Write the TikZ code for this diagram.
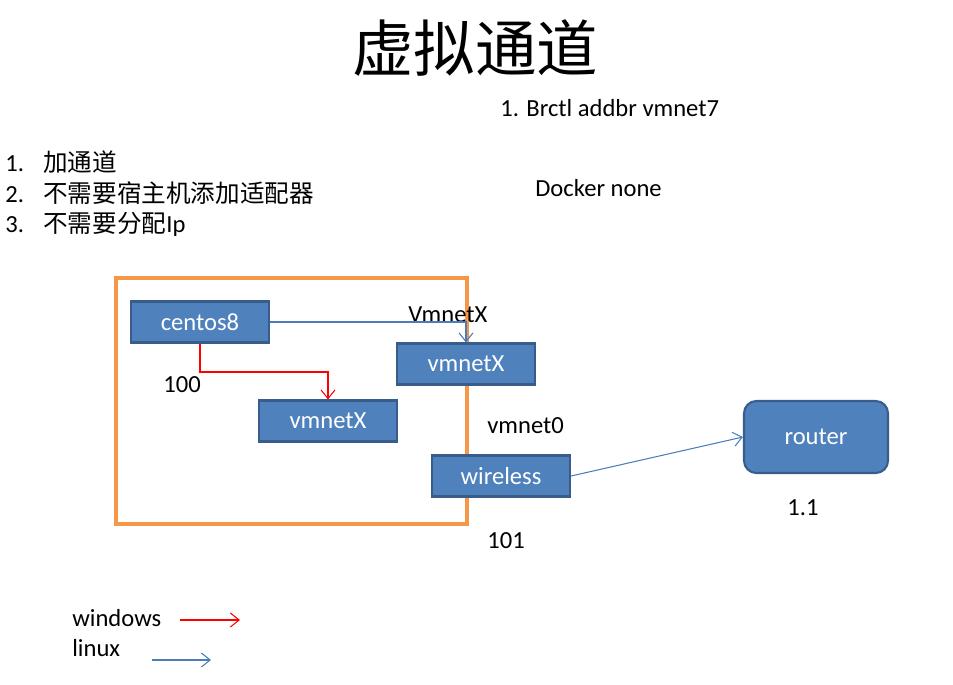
\documentclass[tikz,border=0pt]{standalone}
\usepackage{fontspec}
\setmainfont{Carlito}
\newfontfamily\cjk{Noto Sans CJK SC}
\usetikzlibrary{arrows.meta,calc}
\definecolor{boxblue}{HTML}{4F81BD}
\definecolor{boxedge}{HTML}{385D8A}
\definecolor{lineblue}{HTML}{4A7EBB}
\definecolor{hostorange}{HTML}{F79646}
\tikzset{
  netbox/.style={rectangle,fill=boxblue,draw=boxedge,line width=1.2pt,text=white,
    minimum width=2.76cm,minimum height=0.82cm,font=\fontsize{14}{16}\selectfont},
  label/.style={font=\fontsize{14}{16}\selectfont,inner sep=0pt},
  winarrow/.style={draw=red,line width=0.6pt,-{Straight Barb[length=5pt,width=8pt]}},
  linarrow/.style={draw=lineblue,line width=0.6pt,-{Straight Barb[length=5pt,width=8pt]}}
}
\begin{document}
\begin{tikzpicture}[x=0.02cm,y=-0.02cm]
\useasboundingbox (0,0) rectangle (953,684);
\node[inner sep=0pt,font=\cjk\fontsize{35}{40}\selectfont] (title) at (475,48) {虚拟通道};
\node[label,anchor=west] (brctl) at (500,108) {1. Brctl addbr vmnet7};
\node[label,anchor=west] (docker) at (535,188) {Docker none};
\node[label,anchor=west] (item1) at (5,162) {\makebox[0.76cm][l]{1.}{\cjk\fontsize{14}{16}\selectfont 加通道}};
\node[label,anchor=west] (item2) at (5,193) {\makebox[0.76cm][l]{2.}{\cjk\fontsize{14}{16}\selectfont 不需要宿主机添加适配器}};
\node[label,anchor=west] (item3) at (5,224) {\makebox[0.76cm][l]{3.}{\cjk\fontsize{14}{16}\selectfont 不需要分配}Ip};
% host
\draw[hostorange,line width=1.8pt] (116,278) rectangle (467,524);
\node[netbox] (centos) at (200,322) {centos8};
\node[netbox] (vmtop) at (466,364) {vmnetX};
\node[netbox] (vmmid) at (328,421) {vmnetX};
\node[netbox] (wireless) at (501,476) {wireless};
\node[netbox,rounded corners=7pt,minimum width=2.88cm,minimum height=1.44cm] (router) at (816,437) {router};
\node[label,anchor=west] (vxlabel) at (408,315) {VmnetX};
\node[label,anchor=west] (l100) at (163,385) {100};
\node[label,anchor=west] (l0) at (487,426) {vmnet0};
\node[label,anchor=west] (l101) at (487,541) {101};
\node[label,anchor=west] (l11) at (787,508) {1.1};
\coordinate (bend) at (200,372);
\draw[linarrow] (centos.east) -| (vmtop.north);
\draw[winarrow] (centos.south) -- (bend) -| (vmmid.north);
\draw[linarrow] (wireless.east) -- (router.west);
% legend
\node[label,anchor=west] (win) at (72,618) {windows};
\node[label,anchor=west] (lin) at (72,648) {linux};
\coordinate (w1) at (180,620);
\coordinate (w2) at (240,620);
\coordinate (x1) at (152,660);
\coordinate (x2) at (211,660);
\draw[winarrow] (w1) -- (w2);
\draw[linarrow] (x1) -- (x2);
\end{tikzpicture}
\end{document}
